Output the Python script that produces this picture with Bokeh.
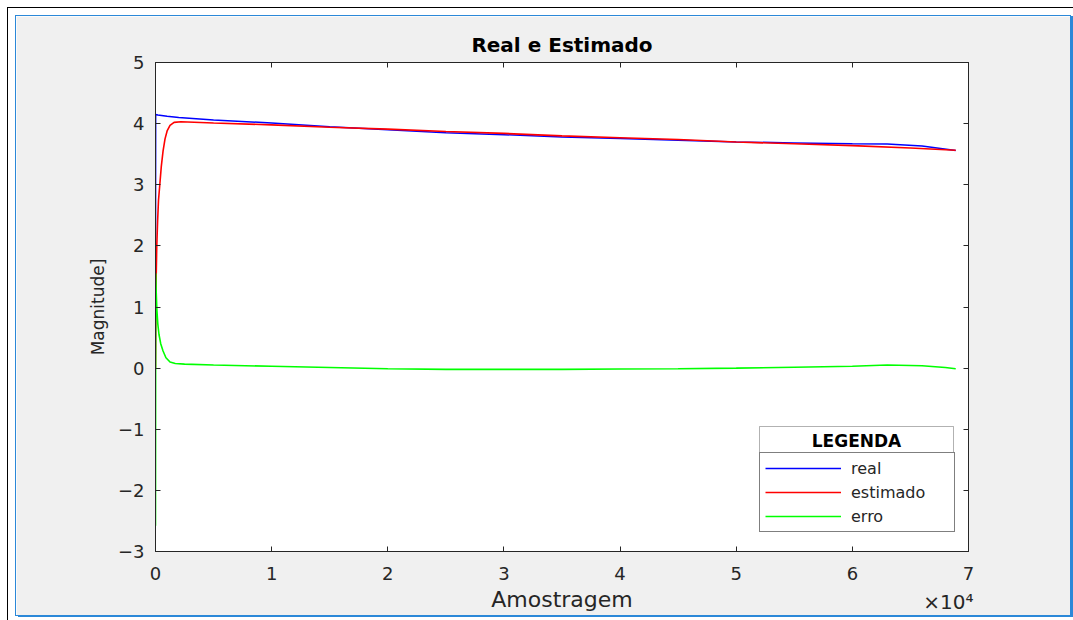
from bokeh.plotting import figure
from bokeh.models import (Range1d, LinearAxis, Legend, LegendItem, Label, Title,
                          BoxAnnotation, CustomJSTickFormatter, FixedTicker)
from bokeh.embed import file_html
from bokeh.resources import INLINE

# ---- data ----
real_x = [0, 15, 200, 1000, 2000, 5000, 10000, 15000, 20000, 25000, 30000,
          35000, 40000, 45000, 50000, 55000, 60000, 63000, 66000, 68900]
real_y = [1.55, 4.15, 4.14, 4.12, 4.10, 4.06, 4.01, 3.95, 3.90, 3.85, 3.82,
          3.78, 3.755, 3.73, 3.70, 3.685, 3.67, 3.668, 3.635, 3.56]

est_x = [0, 30, 60, 110, 180, 260, 370, 500, 650, 820, 1000, 1250, 1600, 2200,
         5000, 10000, 15000, 20000, 25000, 30000, 35000, 40000, 45000, 50000,
         55000, 60000, 65000, 68900]
est_y = [0.0, 0.9, 1.5, 2.0, 2.4, 2.75, 3.0, 3.3, 3.55, 3.75, 3.88, 3.97, 4.02, 4.03,
         4.01, 3.98, 3.94, 3.91, 3.87, 3.84, 3.80, 3.77, 3.74, 3.70,
         3.67, 3.64, 3.60, 3.565]

err_x = [0, 20, 60, 120, 200, 300, 450, 650, 900, 1250, 1700, 2500, 5000, 10000,
         15000, 20000, 25000, 30000, 35000, 40000, 45000, 50000, 55000, 60000,
         63000, 66000, 68000, 68900]
err_y = [-2.58, 1.55, 1.25, 0.95, 0.72, 0.55, 0.4, 0.28, 0.17, 0.1, 0.075, 0.065, 0.05, 0.03,
         0.01, -0.01, -0.02, -0.02, -0.02, -0.015, -0.01, 0.0, 0.015, 0.03,
         0.05, 0.04, 0.01, -0.01]

x_ticks = [0, 10000, 20000, 30000, 40000, 50000, 60000, 70000]
y_ticks = [-3, -2, -1, 0, 1, 2, 3, 4, 5]
series_labels = ["real", "estimado", "erro"]
title_text = "Real e Estimado"
x_label = "Amostragem"
y_label = "Magnitude]"
x_multiplier = "\u00d710\u2074"
legend_title = "LEGENDA"

FONT = "DejaVu Sans"
AX = "#262626"
BLUE_FRAME = "#2b88d8"

shadow = ("0 0 0 1px %s, 3px 1px 0 1px %s, 0 0 0 8px #ffffff, 0 0 0 9px #000000"
          % (BLUE_FRAME, BLUE_FRAME))

p = figure(width=1054, height=599, output_backend="svg", toolbar_location=None,
           x_range=Range1d(0, 70000), y_range=Range1d(-3, 5),
           min_border_left=139, min_border_right=102, min_border_top=46,
           min_border_bottom=64, border_fill_color="#f0f0f0",
           background_fill_color="white", outline_line_color=AX,
           margin=(16, 3, 5, 16), styles={"box-shadow": shadow})
p.xgrid.visible = False
p.ygrid.visible = False

def style_axis(ax):
    ax.major_tick_in = 5
    ax.major_tick_out = 0
    ax.minor_tick_line_color = None
    ax.axis_line_color = AX
    ax.major_tick_line_color = AX
    ax.major_label_text_font = FONT
    ax.major_label_text_color = AX
    ax.axis_label_text_font = FONT
    ax.axis_label_text_color = AX
    ax.axis_label_text_font_style = "normal"

xa = p.xaxis[0]
ya = p.yaxis[0]
style_axis(xa)
style_axis(ya)
xa.ticker = FixedTicker(ticks=x_ticks)
ya.ticker = FixedTicker(ticks=y_ticks)
xa.formatter = CustomJSTickFormatter(code="return (tick/10000).toFixed(0);")
xa.major_label_text_font_size = "18px"
ya.major_label_text_font_size = "18px"
xa.major_label_standoff = 15
ya.major_label_standoff = 11
xa.axis_label = x_label
ya.axis_label = y_label
xa.axis_label_text_font_size = "22px"
ya.axis_label_text_font_size = "17px"
xa.axis_label_standoff = 4
ya.axis_label_standoff = 7

blank = "return '';"
ax_top = LinearAxis(ticker=FixedTicker(ticks=x_ticks), formatter=CustomJSTickFormatter(code=blank))
ax_right = LinearAxis(ticker=FixedTicker(ticks=y_ticks), formatter=CustomJSTickFormatter(code=blank))
for a in (ax_top, ax_right):
    style_axis(a)
    a.major_label_text_font_size = "1px"
    a.major_label_standoff = 0
p.add_layout(ax_top, "above")
p.add_layout(ax_right, "right")

r_real = p.line(real_x, real_y, line_color="#0000ff", line_width=1.5)
r_est = p.line(est_x, est_y, line_color="#ff0000", line_width=1.6)
r_err = p.line(err_x, err_y, line_color="#00ff00", line_width=1.6)

# title
p.title.text = title_text
p.title.align = "center"
p.title.text_font = FONT
p.title.text_font_size = "20px"
p.title.text_font_style = "bold"
p.title.text_color = "black"
p.title.standoff = 11

# x10^4 multiplier below the axis, pulled up beside the axis label
mult = Title(text=x_multiplier, align="right", vertical_align="top", text_font=FONT,
             text_font_size="20px", text_font_style="normal", text_color=AX,
             standoff=-50, offset=-5)
p.add_layout(mult, "below")

# legend
legend = Legend(items=[LegendItem(label=series_labels[0], renderers=[r_real]),
                       LegendItem(label=series_labels[1], renderers=[r_est]),
                       LegendItem(label=series_labels[2], renderers=[r_err])],
                location=(604, 19), border_line_color="black", border_line_width=1,
                background_fill_color="white", background_fill_alpha=1.0,
                padding=5, spacing=4, label_height=20, glyph_height=20, glyph_width=76,
                label_standoff=10, label_width=98, margin=0,
                label_text_font=FONT, label_text_font_size="16px", label_text_color=AX)
p.add_layout(legend, "center")
p.add_layout(BoxAnnotation(left=604, right=798, top=125, bottom=97,
                           left_units="screen", right_units="screen",
                           top_units="screen", bottom_units="screen",
                           fill_color="white", fill_alpha=1.0, line_color="black",
                           line_width=1))
p.add_layout(Label(x=701, y=111, x_units="screen", y_units="screen", text=legend_title,
                   text_align="center", text_baseline="middle", text_font=FONT,
                   text_font_size="17px", text_font_style="bold", text_color="black"))

open("out.html", "w").write(file_html(p, INLINE))
